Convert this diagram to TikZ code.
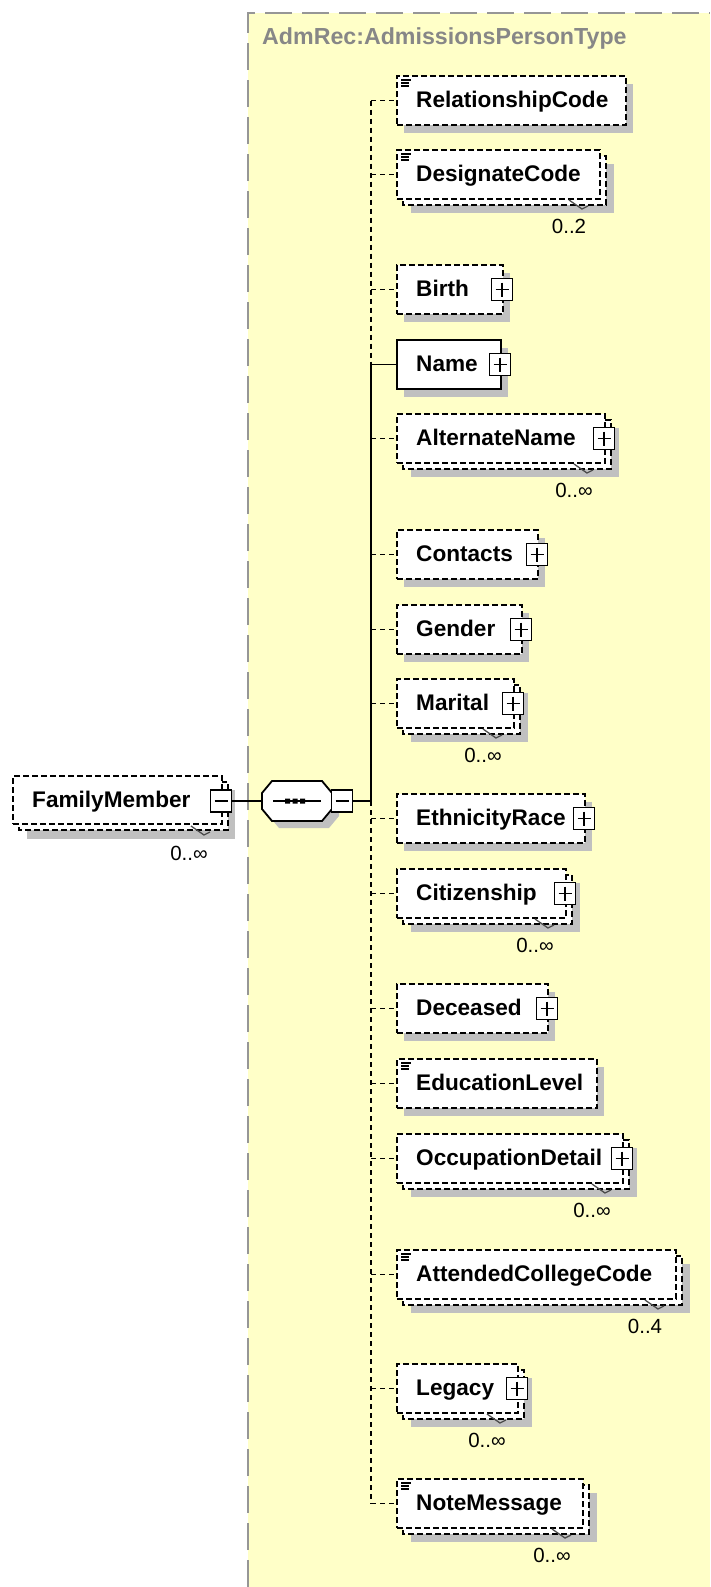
\documentclass[tikz,border=0pt]{standalone}
\usepackage{fontspec}
\setmainfont{Liberation Sans}
\definecolor{bgyellow}{RGB}{255,255,200}
\definecolor{shadowc}{RGB}{192,192,192}
\definecolor{bordergray}{RGB}{150,150,150}
\definecolor{titlegray}{RGB}{135,135,135}
\tikzset{
  ebox/.style={draw, fill=white, inner sep=0pt, minimum height=49pt, line width=1.8pt, dash pattern=on 6pt off 3pt},
  sbox/.style={draw, fill=white, inner sep=0pt, minimum height=49pt, line width=2pt},
  ebackbox/.style={draw, fill=white, line width=1.8pt, dash pattern=on 6pt off 3pt},
  etext/.style={inner sep=0pt, font=\fontsize{22.6}{26}\selectfont\bfseries},
  mtext/.style={inner sep=0pt, font=\fontsize{20.5}{24}\selectfont},
  ttext/.style={inner sep=0pt, text=titlegray, font=\fontsize{23.2}{27}\selectfont\bfseries},
  dconn/.style={line width=1.8pt, dash pattern=on 5pt off 4pt},
  sconn/.style={line width=1.9pt},
  multtick/.style={line width=1.3pt, black!70},
  iconline/.style={line width=1.2pt},
  pbox/.style={draw, fill=white, line width=1.7pt, minimum width=21pt, minimum height=22pt, inner sep=0pt,
    path picture={\draw[line width=1.7pt] ([xshift=4pt]path picture bounding box.west) -- ([xshift=-4pt]path picture bounding box.east)
      ([yshift=-4pt]path picture bounding box.north) -- ([yshift=4pt]path picture bounding box.south);}},
  mbox/.style={draw, fill=white, line width=1.7pt, minimum width=21pt, minimum height=22pt, inner sep=0pt,
    path picture={\draw[line width=1.7pt] ([xshift=4pt]path picture bounding box.west) -- ([xshift=-4pt]path picture bounding box.east);}},
}
% single element box: name, top, right, text
\newcommand\elbox[4]{%
  \fill[shadowc] (404,#2+8) rectangle (#3+7,#2+57);
  \node[ebox, minimum width={#3pt-397pt}] (#1) at ({(397+#3)/2},#2+24.5) {};
  \node[etext, anchor=base west] (#1-t) at (416,#2+31.5) {#4};
}
% multiple-occurrence element box: name, top, right, text, multiplicity
\newcommand\elmulti[5]{%
  \fill[shadowc] (411,#2+14) rectangle (#3+14,#2+63);
  \filldraw[ebackbox] (403,#2+6) rectangle (#3+6,#2+55);
  \node[ebox, minimum width={#3pt-397pt}] (#1) at ({(397+#3)/2},#2+24.5) {};
  \node[etext, anchor=base west] (#1-t) at (416,#2+31.5) {#4};
  \draw[multtick] (#3-31,#2+50) -- (#3-18,#2+59) -- (#3-12,#2+56);
  \node[mtext, anchor=base] (#1-m) at (#3-31,#2+83) {#5};
}
\newcommand\plusat[3]{\node[pbox] (#1-p) at (#3-1,#2+24.5) {};}
\newcommand\docicon[1]{\draw[iconline] (401,#1+4) -- (411,#1+4) (401,#1+7) -- (409,#1+7) (401,#1+10) -- (409,#1+10);}
\begin{document}
\begin{tikzpicture}[x=1pt,y=-1pt]
\useasboundingbox (0,0) rectangle (710,1587);
\fill[white] (0,0) rectangle (710,1587);
% complex type area
\fill[bgyellow] (248,13) rectangle (710,1587);
\draw[bordergray, line width=2.2pt, dash pattern=on 27pt off 10pt] (248,1587) -- (248,13) -- (710,13);
\node[ttext, anchor=base west] (title) at (262,45) {AdmRec:AdmissionsPersonType};

% FamilyMember
\fill[shadowc] (27,790) rectangle (235,839);
\filldraw[ebackbox] (19,782) rectangle (228,830);
\node[ebox, minimum width=209pt, minimum height=48pt] (fm) at (117.5,800) {};
\node[etext, anchor=base west] (fm-t) at (32,807) {FamilyMember};
\node[mbox] (fm-m) at (221,801) {};
\draw[multtick] (191,826) -- (204,835) -- (210,832);
\node[mtext, anchor=base] (fm-mult) at (189,860) {0..∞};

% sequence compositor
\fill[shadowc] (279,788) -- (329,788) -- (339,800) -- (339,816) -- (329,828) -- (279,828) -- (269,816) -- (269,800) -- cycle;
\filldraw[fill=white, line width=1.8pt] (272,781) -- (322,781) -- (332,793) -- (332,809) -- (322,821) -- (272,821) -- (262,809) -- (262,793) -- cycle;
\node[inner sep=0pt, minimum width=70pt, minimum height=40pt] (seq) at (297,801) {};
\draw[line width=1.8pt] (273,801) -- (321,801);
\fill (285,798.5) rectangle (290,803.5) (292.5,798.5) rectangle (297.5,803.5) (300,798.5) rectangle (305,803.5);
\node[mbox] (seq-m) at (342,801) {};
\draw[sconn] (fm-m.east) -- (seq.west);
\coordinate (jx) at (371,801);
\draw[sconn] (seq-m.east) -- (jx);

% child elements
\elbox{e1}{76}{626}{RelationshipCode} \docicon{76}
\elmulti{e2}{150}{600}{DesignateCode}{0..2} \docicon{150}
\elbox{e3}{265}{503}{Birth} \plusat{e3}{265}{503}
\fill[shadowc] (404,348) rectangle (508,397);
\node[sbox, minimum width=104pt] (e4) at (449,364.5) {};
\node[etext, anchor=base west] (e4-t) at (416,371.5) {Name};
\plusat{e4}{340}{501}
\elmulti{e5}{414}{605}{AlternateName}{0..∞} \plusat{e5}{414}{605}
\elbox{e6}{530}{538}{Contacts} \plusat{e6}{530}{538}
\elbox{e7}{605}{522}{Gender} \plusat{e7}{605}{522}
\elmulti{e8}{679}{514}{Marital}{0..∞} \plusat{e8}{679}{514}
\elbox{e9}{794}{585}{EthnicityRace} \plusat{e9}{794}{585}
\elmulti{e10}{869}{566}{Citizenship}{0..∞} \plusat{e10}{869}{566}
\elbox{e11}{984}{548}{Deceased} \plusat{e11}{984}{548}
\elbox{e12}{1059}{597}{EducationLevel} \docicon{1059}
\elmulti{e13}{1134}{623}{OccupationDetail}{0..∞} \plusat{e13}{1134}{623}
\elmulti{e14}{1250}{676}{AttendedCollegeCode}{0..4} \docicon{1250}
\elmulti{e15}{1364}{518}{Legacy}{0..∞} \plusat{e15}{1364}{518}
\elmulti{e16}{1479}{583}{NoteMessage}{0..∞} \docicon{1479}

% connectors
\draw[dconn] (e1.west -| jx) -- (e4.west -| jx);
\draw[sconn] (e4.west -| jx) -- (jx);
\draw[dconn] (jx) -- (e16.west -| jx);
\foreach \e in {e1,e2,e3,e5,e6,e7,e8,e9,e10,e11,e12,e13,e14,e15,e16}
  \draw[dconn] (\e.west -| jx) -- (\e.west);
\draw[sconn] (e4.west -| jx) -- (e4.west);
\end{tikzpicture}
\end{document}
